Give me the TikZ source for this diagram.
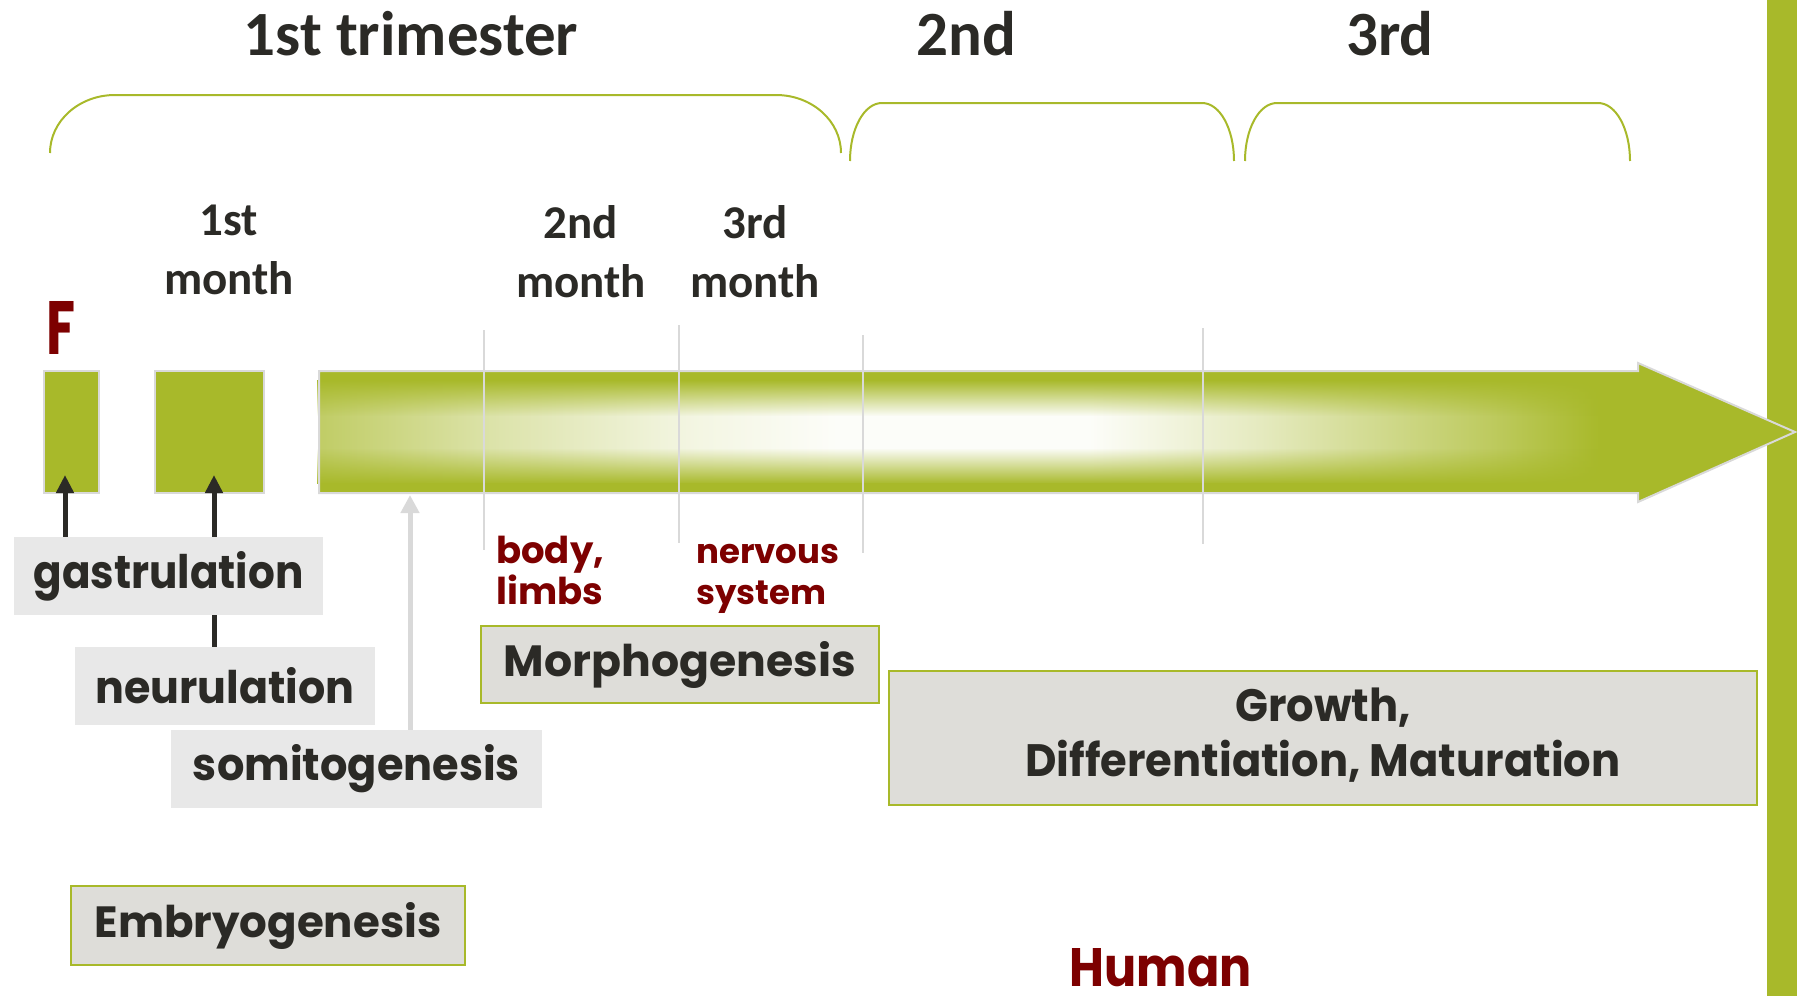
\documentclass[tikz,border=0pt]{standalone}
\usepackage{fontspec}
\usepackage{graphicx}
\usetikzlibrary{fadings,arrows.meta}
\newfontfamily\gothic{Poppins}
\newfontfamily\calib{Carlito}
\definecolor{tgreen}{RGB}{168,185,42}
\definecolor{tdark}{RGB}{43,42,38}
\definecolor{tred}{RGB}{125,0,0}
\definecolor{lgray}{RGB}{217,217,217}
\definecolor{boxgray}{RGB}{232,232,232}
\definecolor{boxwarm}{RGB}{222,221,217}
\colorlet{gA}{tgreen!72!white}
\colorlet{gB}{tgreen!40!white}
\colorlet{gC}{tgreen!14!white}
\colorlet{gD}{tgreen!3!white}
\colorlet{gE}{tgreen!3!white}
\colorlet{gF}{tgreen!30!white}
\colorlet{gG}{tgreen!75!white}
\pgfdeclarehorizontalshading{barshade}{100bp}{color(0bp)=(gA); color(25bp)=(gA); color(30.89bp)=(gB); color(37.5bp)=(gC); color(42.5bp)=(gD); color(51.12bp)=(gE); color(56.88bp)=(gF); color(64.67bp)=(gG); color(68.4bp)=(tgreen); color(100bp)=(tgreen)}
\newcommand{\fwh}[3]{\resizebox{#1}{#2}{#3}}
\tikzset{
  plainbox/.style={fill=boxgray, inner sep=0pt, text=tdark, font=\gothic\bfseries},
  outbox/.style={fill=boxwarm, draw=tgreen, line width=2pt, inner sep=0pt, text=tdark, font=\gothic\bfseries},
  greenblock/.style={fill=tgreen, draw=lgray, line width=2pt, inner sep=0pt},
  blackarr/.style={draw=tdark, line width=5pt, -{Triangle[width=17pt,length=18pt]}},
  grayarr/.style={draw=lgray, line width=5pt, -{Triangle[width=18pt,length=18pt]}},
  sepline/.style={draw=lgray, line width=2pt},
  tribrace/.style={draw=tgreen, line width=2pt},
  titlelbl/.style={inner sep=0pt, text=tdark, font=\calib\bfseries\fontsize{63}{76}\selectfont},
  monthlbl/.style={inner sep=0pt, text=tdark, align=center, font=\calib\bfseries\fontsize{47}{59}\selectfont},
  redlbl/.style={inner sep=0pt, text=tred},
}
\begin{document}
\begin{tikzpicture}[x=1pt,y=-1pt]
\useasboundingbox (0,0) rectangle (1797,996);
% right green bar
\fill[tgreen] (1767,0) rectangle (1797,996);
% titles
\node[titlelbl, anchor=base] (tri1) at (411,55) {1st trimester};
\node[titlelbl, anchor=base] (tri2) at (966,55) {2nd};
\node[titlelbl, anchor=base] (tri3) at (1390,55) {3rd};
% braces
\draw[tribrace] (50,153) .. controls (50,121) and (79,95) .. (115,95) -- (776,95) .. controls (812,95) and (841,121) .. (841,153);
\draw[tribrace] (850,161) .. controls (850,129) and (864,103) .. (882,103) -- (1202,103) .. controls (1220,103) and (1234,129) .. (1234,161);
\draw[tribrace] (1245,161) .. controls (1245,129) and (1259,103) .. (1277,103) -- (1598,103) .. controls (1616,103) and (1630,129) .. (1630,161);
% month labels
\node[monthlbl, anchor=north] (mo1) at (229,205) {1st\\month};
\node[monthlbl, anchor=north] (mo2) at (581,205) {2nd\\month};
\node[monthlbl, anchor=north] (mo3) at (755,205) {3rd\\month};
% F
\node[anchor=south west, inner sep=0pt, text=tred] (F) at (46,355) {\resizebox{29pt}{53pt}{\gothic\bfseries F}};
% small blocks
\node[greenblock, minimum width=55pt, minimum height=122pt] (b1) at (71,432) {};
\node[greenblock, minimum width=109pt, minimum height=122pt] (b2) at (209.5,432) {};
% main arrow
\shade[shading=barshade] (319,371) -- (1638,371) -- (1638,363) -- (1795,432) -- (1638,502) -- (1638,493) -- (319,493) -- cycle;
\fill[tgreen] (319,371) rectangle (1638,381);
\fill[tgreen, path fading=south] (319,380) rectangle (1638,416);
\fill[tgreen, path fading=north] (319,448) rectangle (1638,484);
\fill[tgreen] (319,483) rectangle (1638,493);
\draw[lgray, line width=2pt, line join=miter] (319,371) -- (1638,371) -- (1638,363) -- (1795,432) -- (1638,502) -- (1638,493) -- (319,493) -- cycle;
% separators
\draw[sepline] (484,330) -- (484,550);
\draw[sepline] (679,325) -- (679,543);
\draw[sepline] (863,335) -- (863,553);
\draw[sepline] (1203,328) -- (1203,544);
% red labels
\node[redlbl, anchor=base west] (body) at (496,563) {\gothic\bfseries\fontsize{37}{41}\selectfont\begin{tabular}[t]{@{}l@{}}body,\\limbs\end{tabular}};
\node[redlbl, anchor=base west] (nerv) at (696,563) {\gothic\bfseries\fontsize{34}{41}\selectfont\begin{tabular}[t]{@{}l@{}}nervous\\system\end{tabular}};
% connector targets
\coordinate (t1) at (65,475);
\coordinate (t2) at (214,475);
\coordinate (t3) at (410,495);
% boxes
\node[plainbox, minimum width=300pt, minimum height=78pt] (neu) at (225,686) {\fwh{259pt}{36pt}{neurulation}};
\node[plainbox, minimum width=371pt, minimum height=78pt] (som) at (356.5,769) {\fwh{327pt}{36pt}{somitogenesis}};
\draw[blackarr] (neu.north -| t2) -- (t2);
\draw[grayarr] (som.north -| t3) -- (t3);
\node[plainbox, minimum width=309pt, minimum height=78pt] (gas) at (168.5,576) {\fwh{270pt}{37pt}{gastrulation}};
\draw[blackarr] (gas.north -| t1) -- (t1);
\node[outbox, minimum width=394pt, minimum height=79pt] (emb) at (268,925.5) {\fwh{347pt}{35pt}{Embryogenesis}};
\node[outbox, minimum width=398pt, minimum height=77pt] (mor) at (680,664.5) {\fwh{352pt}{35pt}{Morphogenesis}};
\node[outbox, minimum width=868pt, minimum height=134pt] (gro) at (1323,738) {\scalebox{1}[1.05]{\resizebox{595pt}{!}{\begin{tabular}{@{}c@{}}Growth,\\Differentiation, Maturation\end{tabular}}}};
% Human
\node[anchor=south, inner sep=0pt, text=tred] (human) at (1161,987) {\resizebox{182pt}{38pt}{\gothic\bfseries Human}};
\end{tikzpicture}
\end{document}
